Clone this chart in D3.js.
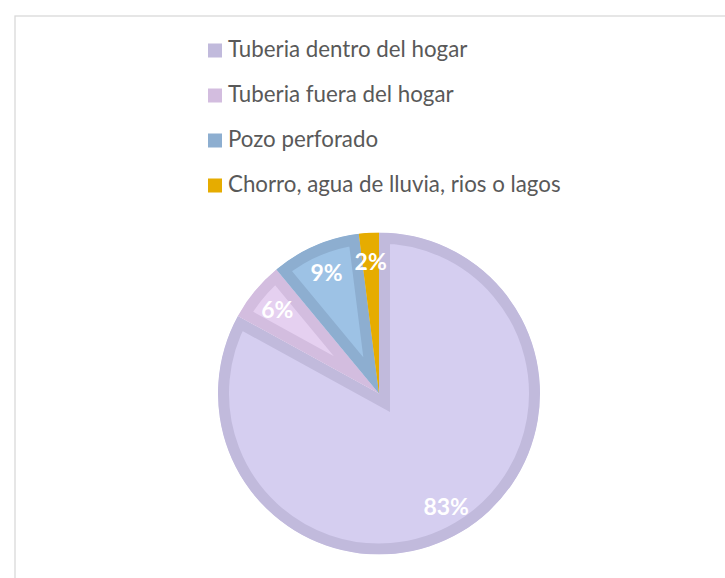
<!DOCTYPE html>
<html lang="en">
  <head>
    <meta charset="UTF-8" />
    <title>Fuente de agua</title>
    <script src="https://d3js.org/d3.v7.min.js"></script>
    <style>
      body { margin: 0; background: #fff; }
      .legend text { font-family: Lato, "Noto Sans", sans-serif; fill: #595959; }
      .lbl { font-family: Lato, "Noto Sans", sans-serif; font-weight: bold; fill: #fff; }
    </style>
  </head>
  <body>
    <script>
      const categories = ["Tuberia dentro del hogar", "Tuberia fuera del hogar", "Pozo perforado", "Chorro, agua de lluvia, rios o lagos"];
      const values = [83, 6, 9, 2];
      const labels = ["83%", "6%", "9%", "2%"];
      const fills = ["#d5cef0", "#e5d0f0", "#9dc2e5", "#e6ac00"];
      const borders = ["#c1badc", "#d3bddf", "#8daed0", "#e6ac00"];

      let width = 725, height = 578;
      const cx = 379, cy = 393.5, r = 161, inset = 11;

      const svg = d3.select("body").append("svg")
        .attr("width", width)
        .attr("height", height);

      // chart frame (runs off the right and bottom edge)
      svg.append("rect")
        .attr("x", 15).attr("y", 16)
        .attr("width", 730).attr("height", 600)
        .attr("fill", "none")
        .attr("stroke", "#d9d9d9")
        .attr("stroke-width", 1.3);

      let legend = svg.append("g").attr("class", "legend");
      let rowY = d3.scalePoint().domain(categories).range([57, 192]);

      categories.forEach(function (c, i) {
        legend.append("rect")
          .attr("x", 208).attr("y", rowY(c) - 13.5)
          .attr("width", 14).attr("height", 14)
          .attr("fill", borders[i]);
        legend.append("text")
          .attr("x", 228).attr("y", rowY(c))
          .style("font-size", "22.3px")
          .text(c);
      });

      const pie = d3.pie().sort(null).value(d => d);
      const arcs = pie(values);
      const arc = d3.arc().innerRadius(0).outerRadius(r);
      const labelArc = d3.arc().innerRadius(132).outerRadius(132);

      let g = svg.append("g").attr("transform", "translate(" + cx + "," + cy + ")");
      let defs = svg.append("defs");

      arcs.forEach(function (d, i) {
        defs.append("clipPath").attr("id", "clip" + i)
          .append("path").attr("d", arc(d));
        // border drawn inside each slice only
        g.append("path")
          .attr("d", arc(d))
          .attr("fill", fills[i])
          .attr("stroke", borders[i])
          .attr("stroke-width", inset * 2)
          .attr("stroke-linejoin", "miter")
          .attr("clip-path", "url(#clip" + i + ")");
      });

      g.selectAll(".lbl")
        .data(arcs)
        .enter()
        .append("text")
        .attr("class", "lbl")
        .attr("transform", d => "translate(" + labelArc.centroid(d) + ")")
        .attr("text-anchor", "middle")
        .attr("dy", "0.36em")
        .style("font-size", "23px")
        .text((d, i) => labels[i]);
    </script>
  </body>
</html>
